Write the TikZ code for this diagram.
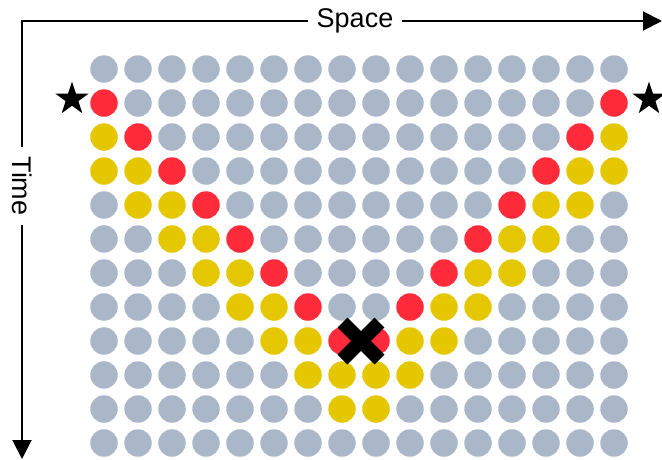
\documentclass[tikz,border=0pt]{standalone}
\usepackage{fontspec}
\setmainfont{Liberation Sans}
\usetikzlibrary{arrows.meta,shapes.geometric,shapes.misc}
\definecolor{dotgray}{HTML}{AAB7C9}
\definecolor{dotred}{HTML}{FF2A3A}
\definecolor{dotyellow}{HTML}{E5C700}
\begin{document}
\begin{tikzpicture}[x=1pt, y=-1pt, font=\fontsize{27}{32}\selectfont, dot/.style={circle, fill=#1, minimum size=27.5pt, inner sep=0pt}, axis/.style={line width=2pt}, arr/.style={axis, -{Triangle[length=19pt, width=19pt]}}, lbl/.style={inner sep=9pt}, starmark/.style={star, star points=5, star point ratio=2.6, fill=black, minimum size=35pt, inner sep=0pt}]
\useasboundingbox (0,0) rectangle (662,459);
\coordinate (origin) at (22,21);
\coordinate (xend) at (662,21);
\coordinate (yend) at (22,459);
\node[lbl] (space) at (355,21) {Space};
\node[lbl, rotate=-90] (time) at (22,186) {Time};
\draw[axis] (time.west) -- (origin) -- (space.west);
\draw[arr] (space.east) -- (xend);
\draw[arr] (time.east) -- (yend);
\foreach \r in {0,...,11}
  \foreach \c in {0,...,15}{
    \pgfmathtruncatemacro\d{\r-min(\c,15-\c)}
    \edef\dotcol{\ifcase\d dotgray\or dotred\or dotyellow\or dotyellow\else dotgray\fi}
    \node[dot=\dotcol] (d-\r-\c) at ({104+34*\c},{69+34*\r}) {};
  }
\node[starmark] (star-l) at (72,99) {};
\node[starmark] (star-r) at (649,99) {};
\node[draw, cross out, line width=14pt, minimum size=37pt, inner sep=0pt, outer sep=0pt] (hit) at (361,341) {};
\end{tikzpicture}
\end{document}
